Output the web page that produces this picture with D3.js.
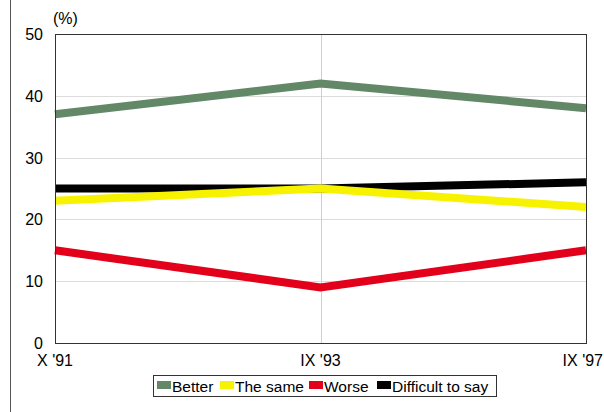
<!DOCTYPE html>
<html>
<head>
<meta charset="utf-8">
<script src="https://cdn.jsdelivr.net/npm/d3@7"></script>
<style>
  html, body { margin: 0; padding: 0; background: #fff; }
  svg { display: block; font-family: "Liberation Sans", Arial, sans-serif; }
</style>
</head>
<body>
<svg id="chart" width="604" height="412"></svg>
<script>
// Survey waves and shares of answers (%)
const periods = ["X '91", "IX '93", "IX '97"];
const better = [37, 42, 38];
const theSame = [23, 25, 22];
const worse = [15, 9, 15];
const difficult = [25, 25, 26];
const yTicks = [0, 10, 20, 30, 40, 50];

const seriesNames = ["Better", "The same", "Worse", "Difficult to say"];
const seriesColors = ["#628868", "#f7f300", "#e2001a", "#000000"];
const seriesValues = [better, theSame, worse, difficult];
// drawing order: black sits under yellow
const drawOrder = [0, 3, 1, 2];

const svg = d3.select("#chart");
const width = 604;
const plotLeft = 55, plotRight = 586, plotTop = 34, plotBottom = 343;

const x = d3.scalePoint().domain(periods).range([plotLeft, plotRight]);
const y = d3.scaleLinear().domain([0, 50]).range([plotBottom, plotTop]);

// outer frame line on the left
svg.append("line")
  .attr("x1", 10.5).attr("x2", 10.5).attr("y1", 0).attr("y2", 412)
  .attr("stroke", "#555").attr("stroke-width", 1);

// horizontal grid
svg.append("g").selectAll("line")
  .data(yTicks.filter(d => d > 0 && d < 50))
  .join("line")
  .attr("x1", plotLeft).attr("x2", plotRight)
  .attr("y1", d => Math.round(y(d)) + 0.5).attr("y2", d => Math.round(y(d)) + 0.5)
  .attr("stroke", "#dcdcdc").attr("stroke-width", 1);

// vertical grid at middle category
svg.append("line")
  .attr("x1", Math.round(x(periods[1])) + 0.5).attr("x2", Math.round(x(periods[1])) + 0.5)
  .attr("y1", plotTop).attr("y2", plotBottom)
  .attr("stroke", "#cfcfcf").attr("stroke-width", 1);

// y tick labels
svg.append("g").selectAll("text")
  .data(yTicks)
  .join("text")
  .attr("x", 43).attr("y", d => y(d) + 6)
  .attr("text-anchor", "end")
  .attr("font-size", 16).attr("fill", "#000")
  .text(d => d);

svg.append("text")
  .attr("x", 53).attr("y", 24)
  .attr("font-size", 16).attr("fill", "#000")
  .text("(%)");

// x tick labels; the last one is kept inside the right edge
svg.append("g").selectAll("text")
  .data(periods)
  .join("text")
  .attr("x", (d, i) => i === periods.length - 1 ? width - 1 : x(d))
  .attr("y", 366)
  .attr("text-anchor", (d, i) => i === periods.length - 1 ? "end" : "middle")
  .attr("font-size", 16).attr("fill", "#000")
  .text(d => d);

// series lines
const line = d3.line().x((d, i) => x(periods[i])).y(d => y(d));
svg.append("g").selectAll("path")
  .data(drawOrder)
  .join("path")
  .attr("d", k => line(seriesValues[k]))
  .attr("fill", "none")
  .attr("stroke", k => seriesColors[k])
  .attr("stroke-width", 8)
  .attr("stroke-linejoin", "miter");

// plot frame
svg.append("rect")
  .attr("x", plotLeft + 0.5).attr("y", plotTop + 0.5)
  .attr("width", plotRight - plotLeft).attr("height", plotBottom - plotTop)
  .attr("fill", "none").attr("stroke", "#333").attr("stroke-width", 1);

// legend
const legend = svg.append("g");
legend.append("rect")
  .attr("x", 153.5).attr("y", 375.5).attr("width", 343).attr("height", 21)
  .attr("fill", "#fff").attr("stroke", "#333").attr("stroke-width", 1);
const items = [
  { i: 0, x: 157 },
  { i: 1, x: 220 },
  { i: 2, x: 309 },
  { i: 3, x: 377 }
];
items.forEach(it => {
  legend.append("rect")
    .attr("x", it.x).attr("y", 381).attr("width", 14).attr("height", 8)
    .attr("fill", seriesColors[it.i]);
  legend.append("text")
    .attr("x", it.x + 15).attr("y", 392)
    .attr("font-size", 15.5).attr("fill", "#000")
    .text(seriesNames[it.i]);
});
</script>
</body>
</html>
